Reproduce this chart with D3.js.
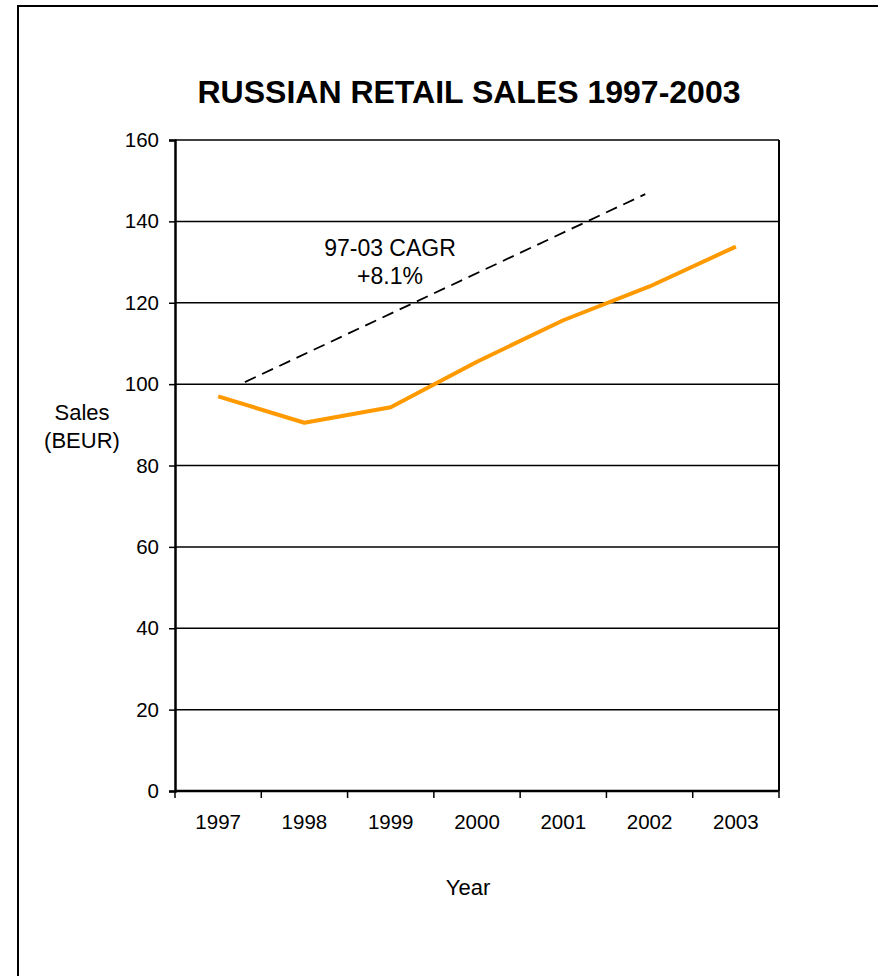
<!DOCTYPE html>
<html>
<head>
<meta charset="utf-8">
<script src="https://cdn.jsdelivr.net/npm/d3@7"></script>
<style>
  html, body { margin: 0; padding: 0; background: #fff; }
  svg { display: block; font-family: Arial, "Liberation Sans", sans-serif; }
</style>
</head>
<body>
<svg id="chart" width="878" height="976"></svg>
<script>
// Russian retail sales, billions of EUR
const years = ["1997", "1998", "1999", "2000", "2001", "2002", "2003"];
const sales = [97, 90.5, 94.3, 105.5, 115.7, 124, 133.8];
const yTicks = [0, 20, 40, 60, 80, 100, 120, 140, 160];

// CAGR trend arrow (band offset from 1997, value)
const trendStart = [0.31, 100.5];
const trendEnd = [4.95, 146.7];
const trendLabel = ["97-03 CAGR", "+8.1%"];

const svg = d3.select("#chart");
const margin = { left: 175, right: 99, top: 140, bottom: 185 };
const W = 878, H = 976;

// outer frame
svg.append("rect")
  .attr("x", 18).attr("y", 6)
  .attr("width", 900).attr("height", 1000)
  .attr("fill", "none").attr("stroke", "#000").attr("stroke-width", 2);

const x = d3.scaleBand().domain(years)
  .range([margin.left, W - margin.right]).paddingInner(0).paddingOuter(0);
const y = d3.scaleLinear().domain([0, 160])
  .range([H - margin.bottom, margin.top]);

// horizontal gridlines
svg.append("g").selectAll("line").data(yTicks.filter(d => d > 0)).join("line")
  .attr("x1", margin.left).attr("x2", W - margin.right)
  .attr("y1", d => y(d)).attr("y2", d => y(d))
  .attr("stroke", "#000").attr("stroke-width", 1.5);

// plot area right edge
svg.append("line")
  .attr("x1", W - margin.right).attr("x2", W - margin.right)
  .attr("y1", y(160)).attr("y2", y(0))
  .attr("stroke", "#000").attr("stroke-width", 2);

// y axis
const yAxis = svg.append("g")
  .attr("transform", `translate(${margin.left},0)`)
  .call(d3.axisLeft(y).tickValues(yTicks).tickSize(6).tickPadding(10));
yAxis.select(".domain").attr("stroke-width", 2.5);
yAxis.selectAll(".tick line").attr("stroke-width", 1.5);
yAxis.selectAll(".tick text").attr("font-size", 20.5).attr("fill", "#000")
  .attr("font-family", "Arial, 'Liberation Sans', sans-serif");

// x axis: ticks at band boundaries, labels at band centres
const xAxisG = svg.append("g").attr("transform", `translate(0,${y(0)})`);
xAxisG.append("line")
  .attr("x1", margin.left).attr("x2", W - margin.right)
  .attr("stroke", "#000").attr("stroke-width", 2.5);
const bounds = years.map(d => x(d)).concat([x(years[years.length - 1]) + x.bandwidth()]);
xAxisG.selectAll("line.tk").data(bounds).join("line").attr("class", "tk")
  .attr("x1", d => d).attr("x2", d => d).attr("y1", 0).attr("y2", 7)
  .attr("stroke", "#000").attr("stroke-width", 1.5);
xAxisG.selectAll("text").data(years).join("text")
  .attr("x", d => x(d) + x.bandwidth() / 2).attr("y", 38)
  .attr("text-anchor", "middle").attr("font-size", 20.5).text(d => d);

// sales line
const line = d3.line()
  .x((d, i) => x(years[i]) + x.bandwidth() / 2)
  .y(d => y(d));
svg.append("path").datum(sales)
  .attr("d", line).attr("fill", "none")
  .attr("stroke", "#FF9900").attr("stroke-width", 4)
  .attr("stroke-linejoin", "round");

// CAGR trend
const tx = v => x(years[0]) + x.bandwidth() / 2 + v * x.bandwidth();
svg.append("line")
  .attr("x1", tx(trendStart[0])).attr("y1", y(trendStart[1]))
  .attr("x2", tx(trendEnd[0])).attr("y2", y(trendEnd[1]))
  .attr("stroke", "#000").attr("stroke-width", 1.8)
  .attr("stroke-dasharray", "12,7");
svg.append("g").selectAll("text").data(trendLabel).join("text")
  .attr("x", 390).attr("y", (d, i) => 256 + i * 28)
  .attr("text-anchor", "middle").attr("font-size", 23).text(d => d);

// title
svg.append("text").attr("x", 469).attr("y", 103)
  .attr("text-anchor", "middle").attr("font-size", 32).attr("font-weight", "bold")
  .text("RUSSIAN RETAIL SALES 1997-2003");

// axis titles
svg.append("g").selectAll("text").data(["Sales", "(BEUR)"]).join("text")
  .attr("x", 82).attr("y", (d, i) => 420 + i * 28)
  .attr("text-anchor", "middle").attr("font-size", 22).text(d => d);
svg.append("text").attr("x", 468).attr("y", 895)
  .attr("text-anchor", "middle").attr("font-size", 22).text("Year");
</script>
</body>
</html>
